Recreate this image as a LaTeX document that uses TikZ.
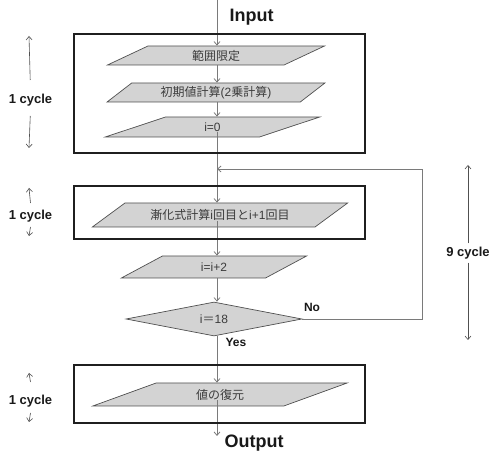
\documentclass[tikz,border=0pt]{standalone}
\usepackage{fontspec}
\setmainfont{Liberation Sans}
\newfontfamily\jp{Noto Sans CJK JP}
\usetikzlibrary{shapes.geometric,arrows.meta,calc}

\definecolor{boxgray}{HTML}{D3D3D3}
\definecolor{linegray}{HTML}{7A7A7A}
\definecolor{edgegray}{HTML}{505050}
\definecolor{txtgray}{HTML}{3C3C3C}

\tikzset{
  para/.style={trapezium, trapezium stretches=true, fill=boxgray, draw=edgegray,
    line width=0.7pt, inner sep=0pt, text=txtgray, font=\fontsize{12}{14}\selectfont},
  cond/.style={diamond, aspect=5, fill=boxgray, draw=edgegray, line width=0.7pt,
    inner sep=0pt, minimum width=176pt, minimum height=34pt, text=txtgray,
    font=\fontsize{12}{14}\selectfont},
  flow/.style={draw=linegray, line width=0.8pt, -{Straight Barb[length=3.5pt,width=6pt]}},
  ann/.style={draw=edgegray, line width=0.6pt, -{Straight Barb[length=3.5pt,width=6pt]}},
  grp/.style={draw=black!88, line width=2.6pt},
  bigtxt/.style={font=\fontsize{18}{20}\selectfont\bfseries, text=black!90},
  cyclab/.style={font=\fontsize{13}{15}\selectfont\bfseries, text=black!90},
  yn/.style={font=\fontsize{12}{14}\selectfont\bfseries, text=black!90}
}

\begin{document}
\begin{tikzpicture}[x=1pt,y=-1pt]
  \useasboundingbox (0,0) rectangle (491,454);

  % flow nodes
  \coordinate (in) at (217,0);
  \node[para, trapezium left angle=38, trapezium right angle=142,
    minimum width=218pt, minimum height=19pt] (range) at (216,55.5) {\jp 範囲限定};
  \node[para, trapezium left angle=38, trapezium right angle=142,
    minimum width=218pt, minimum height=19pt] (init) at (216,92.5) {{\jp 初期値計算}(2{\jp 乗計算})};
  \node[para, trapezium left angle=40, trapezium right angle=140,
    minimum width=215pt, minimum height=20pt] (zero) at (212.5,127) {i=0};
  \node[para, trapezium left angle=25, trapezium right angle=155,
    minimum width=256pt, minimum height=24pt] (rec) at (220,215) {{\jp 漸化式計算}i{\jp 回目と}i+1{\jp 回目}};
  \node[para, trapezium left angle=40, trapezium right angle=140,
    minimum width=186pt, minimum height=22pt] (step2) at (214,267) {i=i+2};
  \node[cond] (dec) at (214,319) {i{\jp ＝}18};
  \node[para, trapezium left angle=25, trapezium right angle=155,
    minimum width=256pt, minimum height=23pt] (undo) at (220,394.5) {\jp 値の復元};

  \node[bigtxt, anchor=west] (inp) at (226,17) {Input};
  \node[bigtxt, anchor=west] (out) at (221,443) {Output};
  \node[yn] (yes) at (236,342) {Yes};
  \node[yn] (no) at (312,307) {No};

  % connectors
  \coordinate (back) at (422,169);
  \coordinate (oe) at (217,436);
  \draw[flow] (in) -- (in |- range.north);
  \draw[flow] (in |- range.south) -- (in |- init.north);
  \draw[flow] (in |- init.south) -- (in |- zero.north);
  \draw[flow] ($(in |- zero.center)+(0,5)$) -- (in |- rec.north);
  \draw[flow] ($(in |- rec.center)+(0,6)$) -- (in |- step2.north);
  \draw[flow] (in |- step2.south) -- (in |- dec.north);
  \draw[flow] (in |- dec.south) -- (in |- undo.north);
  \draw[flow] ($(in |- undo.center)+(0,6)$) -- (oe);
  \draw[flow] (dec.east) -| (back) -- (in |- back);

  % group frames
  \draw[grp] (74,34) rectangle (365,153);
  \draw[grp] (74,186) rectangle (365,239);
  \draw[grp] (74,365) rectangle (365,423);

  % cycle counts
  \node[cyclab] (c1) at (30.5,100) {1 cycle};
  \node[cyclab] (c2) at (30.5,216) {1 cycle};
  \node[cyclab] (c3) at (30.5,401) {1 cycle};
  \node[cyclab] (c9) at (468,253) {9 cycle};
  \coordinate (c1u) at (29,36);  \coordinate (c1d) at (29,148);
  \coordinate (c2u) at (29,188); \coordinate (c2d) at (29,236);
  \coordinate (c3u) at (29,373); \coordinate (c3d) at (29,422);
  \coordinate (c9u) at (468,165); \coordinate (c9d) at (468,340);
  \draw[ann, shorten <=10pt] (c1 |- 0,90) -- (c1u);
  \draw[ann, shorten <=6pt] (c1 |- 0,110) -- (c1d);
  \draw[ann] (c2 |- 0,203) -- (c2u);
  \draw[ann] (c2 |- 0,227) -- (c2d);
  \draw[ann] (c3 |- 0,382) -- (c3u);
  \draw[ann] (c3 |- 0,413) -- (c3d);
  \draw[ann] (c9) -- (c9u);
  \draw[ann] (c9) -- (c9d);
\end{tikzpicture}
\end{document}
